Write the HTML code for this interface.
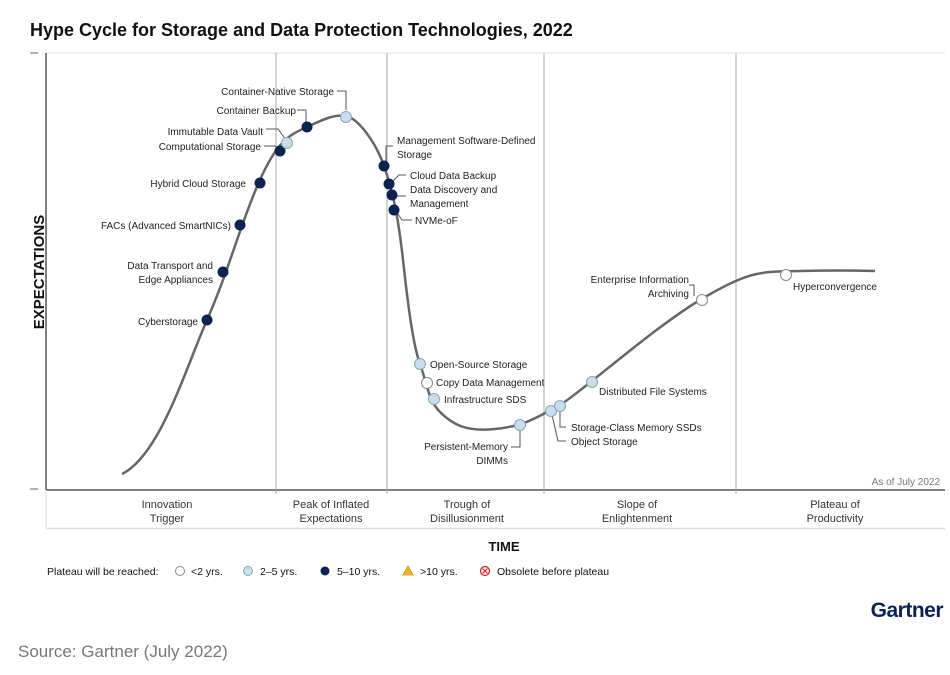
<!DOCTYPE html>
<html><head><meta charset="utf-8"><style>
body{margin:0;background:#fff;width:950px;height:675px;overflow:hidden}
svg{display:block;font-family:"Liberation Sans",sans-serif}
</style></head><body>
<svg width="950" height="675" viewBox="0 0 950 675">
<text x="30" y="36" font-size="18" font-weight="bold" fill="#111">Hype Cycle for Storage and Data Protection Technologies, 2022</text>
<line x1="46" y1="53" x2="945" y2="53" stroke="#e3e3e3" stroke-width="1"/>
<line x1="30" y1="53" x2="38" y2="53" stroke="#666"/>
<line x1="30" y1="489" x2="38" y2="489" stroke="#666"/>
<line x1="46" y1="53" x2="46" y2="490" stroke="#555" stroke-width="1.5"/>
<line x1="46" y1="490" x2="945" y2="490" stroke="#555" stroke-width="1.5"/>
<g stroke="#aaa" stroke-width="1">
<line x1="276" y1="53" x2="276" y2="494"/><line x1="387" y1="53" x2="387" y2="494"/>
<line x1="544" y1="53" x2="544" y2="494"/><line x1="736" y1="53" x2="736" y2="494"/>
</g>
<line x1="46" y1="490" x2="46" y2="528" stroke="#ddd"/>
<line x1="46" y1="528.5" x2="945" y2="528.5" stroke="#ddd" stroke-width="1.5"/>
<text transform="translate(44,272) rotate(-90)" text-anchor="middle" font-size="15" font-weight="bold" fill="#111">EXPECTATIONS</text>
<text x="940" y="485" text-anchor="end" font-size="10" fill="#777">As of July 2022</text>
<g font-size="11" fill="#333" text-anchor="middle">
<text x="167" y="508">Innovation</text><text x="167" y="522">Trigger</text>
<text x="331" y="508">Peak of Inflated</text><text x="331" y="522">Expectations</text>
<text x="467" y="508">Trough of</text><text x="467" y="522">Disillusionment</text>
<text x="637" y="508">Slope of</text><text x="637" y="522">Enlightenment</text>
<text x="835" y="508">Plateau of</text><text x="835" y="522">Productivity</text>
</g>
<text x="504" y="551" text-anchor="middle" font-size="13" font-weight="bold" fill="#111">TIME</text>
<path d="M122,474 C160,455 185,370 207,320 S240,225 259,182 S290,135 307,127 S335,114 346,116 S375,140 384,166 S398,215 403,260 S413,345 420,364 S428,400 440,412 S465,432 495,429 S535,418 555,408 S650,330 700,300 S760,272 800,271 S875,271 875,271" fill="none" stroke="#666" stroke-width="2.5"/>
<g stroke="#555" fill="none" stroke-width="1">
<path d="M337,91 H346 V110"/><path d="M297,110 H306 V122"/><path d="M266,129 H278 L286,140"/><path d="M264,146 H275 L279,149"/>
<path d="M393,146 H386 V162"/><path d="M406,175 H399 L392,182"/><path d="M406,196 H394"/><path d="M398,214 L402,220 H412"/>
<path d="M511,447 H520 V426"/><path d="M566,427 H560 V411"/><path d="M566,441 H558 L552,415"/><path d="M689,285 H694 V296"/>
</g>
<g stroke="#888" stroke-width="1">
<g fill="#0b2350" stroke="#0b2350">
<circle cx="207" cy="320" r="5"/><circle cx="223" cy="272" r="5"/><circle cx="240" cy="225" r="5"/><circle cx="260" cy="183" r="5"/><circle cx="280" cy="151" r="5"/><circle cx="307" cy="127" r="5"/><circle cx="384" cy="166" r="5"/><circle cx="389" cy="184" r="5"/><circle cx="392" cy="195" r="5"/><circle cx="394" cy="210" r="5"/>
</g>
<g fill="#c8def0" stroke="#8aa">
<circle cx="287" cy="143" r="5.5"/><circle cx="346" cy="117" r="5.5"/><circle cx="420" cy="364" r="5.5"/><circle cx="434" cy="399" r="5.5"/><circle cx="520" cy="425" r="5.5"/><circle cx="551" cy="411" r="5.5"/><circle cx="560" cy="406" r="5.5"/><circle cx="592" cy="382" r="5.5"/>
</g>
<g fill="#fff" stroke="#888">
<circle cx="427" cy="383" r="5.5"/><circle cx="702" cy="300" r="5.5"/><circle cx="786" cy="275" r="5.5"/>
</g>
</g>
<g font-size="10" fill="#222">
<text x="334" y="95" text-anchor="end">Container-Native Storage</text>
<text x="296" y="114" text-anchor="end">Container Backup</text>
<text x="263" y="135" text-anchor="end">Immutable Data Vault</text>
<text x="261" y="150" text-anchor="end">Computational Storage</text>
<text x="246" y="187" text-anchor="end">Hybrid Cloud Storage</text>
<text x="231" y="229" text-anchor="end">FACs (Advanced SmartNICs)</text>
<text x="213" y="269" text-anchor="end">Data Transport and</text>
<text x="213" y="283" text-anchor="end">Edge Appliances</text>
<text x="198" y="325" text-anchor="end">Cyberstorage</text>
<text x="397" y="144">Management Software-Defined</text><text x="397" y="158">Storage</text>
<text x="410" y="179">Cloud Data Backup</text>
<text x="410" y="193">Data Discovery and</text><text x="410" y="207">Management</text>
<text x="415" y="224">NVMe-oF</text>
<text x="430" y="368">Open-Source Storage</text>
<text x="436" y="386">Copy Data Management</text>
<text x="444" y="403">Infrastructure SDS</text>
<text x="508" y="450" text-anchor="end">Persistent-Memory</text><text x="508" y="464" text-anchor="end">DIMMs</text>
<text x="571" y="431">Storage-Class Memory SSDs</text>
<text x="571" y="445">Object Storage</text>
<text x="599" y="395">Distributed File Systems</text>
<text x="689" y="283" text-anchor="end">Enterprise Information</text><text x="689" y="297" text-anchor="end">Archiving</text>
<text x="793" y="290">Hyperconvergence</text>
</g>
<g font-size="10.5" fill="#111">
<text x="47" y="575">Plateau will be reached:</text>
<circle cx="180" cy="571" r="4.5" fill="#fff" stroke="#888"/><text x="191" y="575">&lt;2 yrs.</text>
<circle cx="248" cy="571" r="4.5" fill="#c8def0" stroke="#8aa"/><text x="260" y="575">2–5 yrs.</text>
<circle cx="325" cy="571" r="4.5" fill="#0b2350"/><text x="337" y="575">5–10 yrs.</text>
<path d="M408,566 L413,575 L403,575 Z" fill="#f0b429" stroke="#c8901a" stroke-width="0.8"/><text x="420" y="575">&gt;10 yrs.</text>
<circle cx="485" cy="571" r="4.5" fill="#fff" stroke="#d22" stroke-width="1.2"/><path d="M482.5,568.5 L487.5,573.5 M487.5,568.5 L482.5,573.5" stroke="#d22" stroke-width="1.2"/>
<text x="497" y="575">Obsolete before plateau</text>
</g>
<text x="943" y="617" text-anchor="end" font-size="21" font-weight="bold" fill="#0b2350" letter-spacing="-0.5">Gartner</text>
<text x="18" y="657" font-size="17" fill="#777">Source: Gartner (July 2022)</text>
</svg>
</body></html>
